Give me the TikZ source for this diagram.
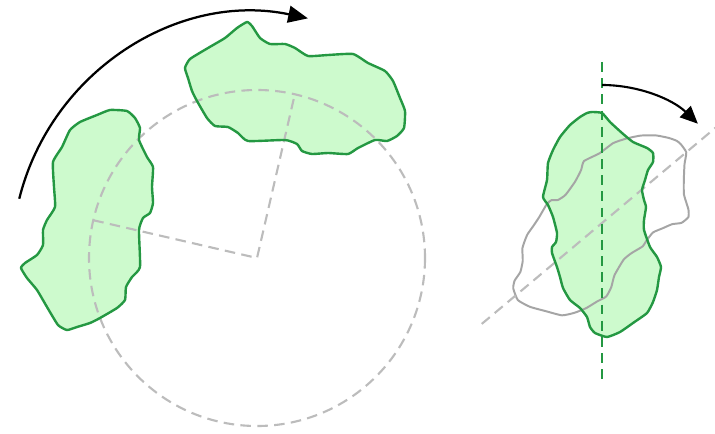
\documentclass[tikz,border=0pt]{standalone}
\usetikzlibrary{arrows.meta,calc}
\definecolor{blobfill}{RGB}{205,250,205}
\definecolor{blobline}{RGB}{36,152,66}
\definecolor{guide}{RGB}{188,188,188}
\definecolor{ghost}{RGB}{165,165,165}
\tikzset{
  blobfillstyle/.style={fill=blobfill, draw=none},
  bloboutline/.style={draw=blobline, line width=1.7pt, line join=round},
  guideline/.style={draw=guide, line width=1.5pt, dash pattern=on 7.5pt off 4.5pt},
  axisline/.style={draw=blobline, line width=1.5pt, dash pattern=on 7pt off 4.5pt},
  ghostline/.style={draw=ghost, line width=1.4pt, line join=round},
  turnarrow/.style={draw=black, line width=1.6pt, -{Triangle[length=14pt, width=12pt]}},
  turnarrowsmall/.style={draw=black, line width=1.5pt, -{Triangle[length=12.5pt, width=11pt]}},
  blobcurve/.style={smooth cycle, tension=0.3}
}
% irregular outlines (pixel-like units, y pointing down)
\def\blobA{(110,110) (127,111) (135,118) (140,128) (139,140) (147,157) (153,167) (152,187) (153,203) (150,213) (143,218) (139,230) (140,267) (132,277) (126,287) (125,300) (117,308) (100,318) (90,323) (77,327) (67,330) (58,325) (47,307) (37,290) (27,278) (21,268) (25,263) (37,255) (43,245) (43,230) (47,220) (55,207) (54,187) (53,162) (62,147) (70,130) (80,122) (97,115)}
\def\blobB{(592,112) (602,113) (610,122) (622,133) (633,142) (647,148) (653,153) (653,162) (648,170) (645,180) (642,190) (644,200) (646,207) (644,220) (644,230) (650,247) (657,257) (661,267) (659,277) (657,290) (653,302) (647,313) (633,323) (620,332) (607,337) (595,333) (590,327) (587,317) (580,308) (570,300) (563,288) (560,277) (557,267) (552,253) (552,247) (556,242) (557,233) (553,217) (548,205) (543,197) (547,180) (548,163) (553,150) (560,137) (570,125) (580,117) (587,113)}
\begin{document}
\begin{tikzpicture}[x=0.025cm, y=-0.025cm]
  \useasboundingbox[fill=white] (0,0) rectangle (715,433);
  \coordinate (pivot) at (257,258);
  \coordinate (pivotR) at (602,223);

  % ---- left: rotation about a distant pivot ----
  \fill[blobfillstyle] plot[blobcurve] coordinates {\blobA};
  \begin{scope}[rotate around={-90:(pivot)}]
    \fill[blobfillstyle] plot[blobcurve] coordinates {\blobA};
  \end{scope}

  \draw[guideline] (pivot) circle[radius=168];
  \draw[guideline] ($(pivot)+(-167:168)$) -- (pivot) -- ($(pivot)+(-77:168)$);

  \draw[bloboutline] plot[blobcurve] coordinates {\blobA};
  \begin{scope}[rotate around={-90:(pivot)}]
    \draw[bloboutline] plot[blobcurve] coordinates {\blobA};
  \end{scope}

  \draw[turnarrow] ($(pivot)+(-166:245)$) arc[start angle=-166, end angle=-78, radius=245];

  % ---- right: rotation about the shape's own centre ----
  \fill[blobfillstyle] plot[blobcurve] coordinates {\blobB};
  \begin{scope}[rotate around={-50:(pivotR)}]
    \draw[ghostline] plot[blobcurve] coordinates {\blobB};
  \end{scope}
  \draw[guideline] ($(pivotR)+(140:157)$) -- ($(pivotR)+(-40:150)$);
  \draw[bloboutline] plot[blobcurve] coordinates {\blobB};
  \draw[axisline] ($(pivotR)+(0,-161)$) -- ($(pivotR)+(0,159)$);

  \draw[turnarrowsmall] ($(pivotR)+(-90:138)$) arc[start angle=-90, end angle=-46, radius=138];
\end{tikzpicture}
\end{document}
